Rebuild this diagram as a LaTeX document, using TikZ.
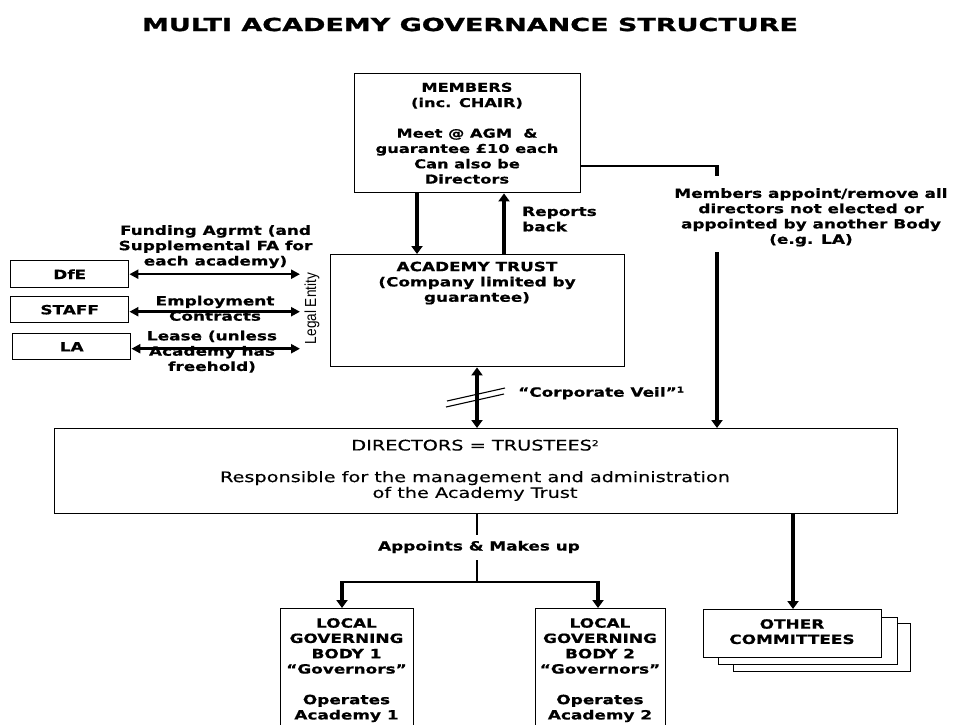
\documentclass[tikz,border=0pt]{standalone}
\usepackage{fontspec}
\usetikzlibrary{arrows.meta}
\newfontfamily\bfnt[FakeStretch=1.33,FakeBold=0.6]{DejaVu Sans Bold}
\newfontfamily\tfnt[FakeStretch=1.5,FakeBold=1.3]{DejaVu Sans Bold}
\newfontfamily\rfnt[FakeStretch=1.33,FakeBold=0.3]{DejaVu Sans}
\newfontfamily\nfnt[FakeStretch=0.85]{Liberation Sans}
\begin{document}
\begin{tikzpicture}[x=1pt,y=-1pt,
  box/.style={draw, line width=1.4pt, fill=white, inner sep=0pt, anchor=north west},
  txt/.style={font=\bfnt\fontsize{12.7}{15.3}\selectfont, align=center, inner sep=0pt},
  rtxt/.style={font=\rfnt\fontsize{14.5}{15.8}\selectfont, align=center, inner sep=0pt},
  thinln/.style={line width=1.3pt},
  thickln/.style={line width=3.2pt},
  arr/.style={line width=3.2pt, -{Triangle[length=8pt,width=11pt]}},
  darr/.style={line width=3.2pt, {Triangle[length=8pt,width=11pt]}-{Triangle[length=8pt,width=11pt]}},
  larr/.style={line width=2.5pt, {Triangle[length=9pt,width=9pt]}-{Triangle[length=9pt,width=9pt]}}
]
\useasboundingbox (0,0) rectangle (955,724);
\clip (0,0) rectangle (955,724);

% title
\node[font=\tfnt\fontsize{18}{22}\selectfont, inner sep=0pt] (title) at (470,24.5) {MULTI ACADEMY GOVERNANCE STRUCTURE};

% boxes
\node[box, minimum width=226pt, minimum height=119pt] (mem) at (354,73) {};
\node[box, minimum width=294pt, minimum height=112pt] (trust) at (330,254) {};
\node[box, minimum width=118pt, minimum height=27pt] (dfe) at (10,260) {};
\node[box, minimum width=118pt, minimum height=26pt] (staff) at (10,296) {};
\node[box, minimum width=118pt, minimum height=26pt] (la) at (12,333) {};
\node[box, minimum width=843pt, minimum height=85pt] (dir) at (54,428) {};
\node[box, minimum width=133pt, minimum height=140pt] (lgb1) at (280,608) {};
\node[box, minimum width=130pt, minimum height=140pt] (lgb2) at (535,608) {};
\node[box, minimum width=177pt, minimum height=48pt] (c3) at (733,623) {};
\node[box, minimum width=179pt, minimum height=47pt] (c2) at (718,617) {};
\node[box, minimum width=178pt, minimum height=48pt] (c1) at (703,609) {};

% box texts
\node[txt, anchor=north, font=\bfnt\fontsize{12.2}{15.3}\selectfont] (memtxt) at (467,82.5) {MEMBERS\\(inc. CHAIR)\\[15.3pt]Meet @ AGM \ \&\\guarantee £10 each\\Can also be\\Directors};
\node[txt, anchor=north] (trusttxt) at (477,261.5) {ACADEMY TRUST\\(Company limited by\\guarantee)};
\node[txt] (dfetxt) at (dfe.center) {DfE};
\node[txt] (stafftxt) at (staff.center) {STAFF};
\node[txt] (latxt) at (la.center) {LA};
\node[rtxt, anchor=north] (dirtxt) at (475,439.5) {DIRECTORS = TRUSTEES\raisebox{0.55ex}{\fontsize{8}{8}\selectfont 2}\\[15.8pt]Responsible for the management and administration\\of the Academy Trust};
\node[txt, anchor=north] (lgb1txt) at (346.5,618) {LOCAL\\GOVERNING\\BODY 1\\“Governors”\\[15.3pt]Operates\\Academy 1};
\node[txt, anchor=north] (lgb2txt) at (600,618) {LOCAL\\GOVERNING\\BODY 2\\“Governors”\\[15.3pt]Operates\\Academy 2};
\node[txt, anchor=north] (c1txt) at (792,619) {OTHER\\COMMITTEES};

% labels
\node[txt, anchor=north] (lfund) at (215.5,225) {Funding Agrmt (and\\Supplemental FA for\\each academy)};
\node[txt, anchor=north] (lemp) at (215,295.5) {Employment\\Contracts};
\node[txt, anchor=north] (llease) at (212,330.5) {Lease (unless\\Academy has\\freehold)};
\node[font=\nfnt\fontsize{16}{16}\selectfont, rotate=90, inner sep=0pt] (legal) at (312,308.5) {Legal Entity};
\node[txt, anchor=north west, align=left] (reports) at (522,206.5) {Reports\\back};
\node[txt, anchor=west] (veil) at (518,393) {“Corporate Veil”\raisebox{0.6ex}{\fontsize{8}{8}\selectfont 1}};
\node[txt, anchor=north] (mapp) at (811,188) {Members appoint/remove all\\directors not elected or\\appointed by another Body\\(e.g. LA)};
\node[txt] (appoints) at (479,547) {Appoints \& Makes up};

% coordinates
\coordinate (xa) at (417,0);
\coordinate (xb) at (504,0);
\coordinate (xv) at (477,0);
\coordinate (xl) at (300,0);
\coordinate (ma) at (717,166);
\coordinate (mb) at (717,252);
\coordinate (ap1) at (477,535);
\coordinate (ap2) at (477,560);
\coordinate (br) at (477,582);
\coordinate (x1) at (342,0);
\coordinate (x2) at (598,0);
\coordinate (xc) at (793,0);

% connectors
\draw[arr] (xa |- mem.south) -- (xa |- trust.north);
\draw[arr] (xb |- trust.north) -- (xb |- mem.south);
\draw[larr] (dfe.east) -- (dfe.east -| xl);
\draw[larr] ([yshift=-2pt]staff.east) -- ([yshift=-2pt]staff.east -| xl);
\draw[larr] ([yshift=-2pt]la.east) -- ([yshift=-2pt]la.east -| xl);
\draw[darr] (xv |- trust.south) -- (xv |- dir.north);
\draw[line width=1.1pt] (447,401) -- (505,388);
\draw[line width=1.1pt] (446,407) -- (504,394);
\draw[thinln] (mem.east |- ma) -- (ma);
\draw[thickln] ([yshift=0.65pt]ma) -- ++(0,11);
\draw[arr] (mb) -- (mb |- dir.north);
\draw[thinln] (xv |- dir.south) -- (ap1);
\draw[thinln] (ap2) -- (br);
\draw[thinln] (br -| x1) -- (br -| x2);
\draw[arr] ([yshift=0.65pt]br -| x1) -- (x1 |- lgb1.north);
\draw[arr] ([yshift=0.65pt]br -| x2) -- (x2 |- lgb2.north);
\draw[arr] (xc |- dir.south) -- (xc |- c1.north);
\end{tikzpicture}
\end{document}
